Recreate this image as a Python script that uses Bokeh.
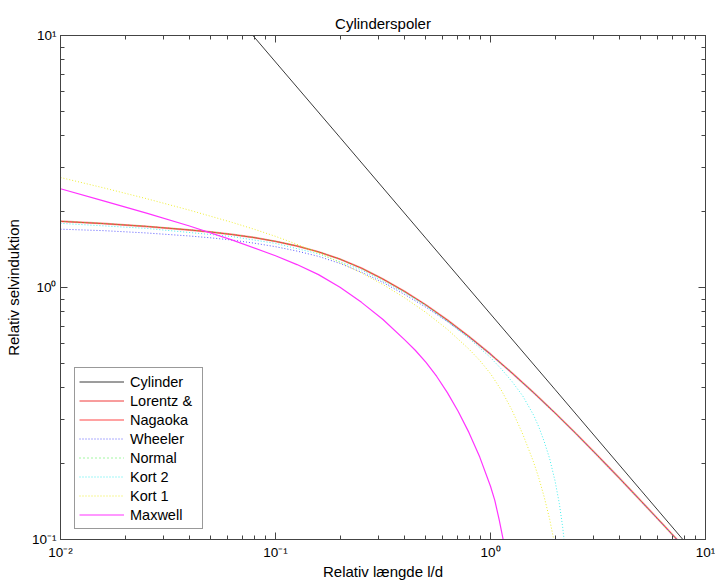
from bokeh.plotting import figure
from bokeh.models import (LogAxis, FixedTicker, CustomJSTickFormatter, Legend,
                          LegendItem, Range1d)
from bokeh.embed import file_html
from bokeh.resources import INLINE

# ---------------- data ----------------
title_text = "Cylinderspoler"
x_label = "Relativ længde l/d"
y_label = "Relativ selvinduktion"

x_major = [0.01, 0.1, 1, 10]
x_major_labels = ["10⁻²", "10⁻¹", "10⁰", "10¹"]
y_major = [0.1, 1, 10]
y_major_labels = ["10⁻¹", "10⁰", "10¹"]
minor_mult = [2, 3, 4, 5, 6, 7, 8, 9]

cyl_x = [0.0785, 0.1, 0.2, 0.5, 1.0, 2.0, 5.0, 10.0]
cyl_y = [10.0, 7.85, 3.93, 1.57, 0.785, 0.393, 0.157, 0.0785]

lor_x = [0.01, 0.01585, 0.02512, 0.03981, 0.05012, 0.0631, 0.07943, 0.1, 0.1259,
         0.1585, 0.1995, 0.2512, 0.3162, 0.3981, 0.5012, 0.631, 0.7943, 1.0, 1.259,
         1.585, 1.995, 2.512, 3.162, 3.981, 5.012, 6.31, 7.943, 8.913]
lor_y = [1.830, 1.793, 1.748, 1.692, 1.660, 1.622, 1.578, 1.524, 1.461,
         1.385, 1.296, 1.193, 1.080, 0.965, 0.852, 0.742, 0.639, 0.544, 0.458,
         0.383, 0.318, 0.262, 0.2145, 0.175, 0.1422, 0.1153, 0.0933, 0.0839]

nag_x = list(lor_x)
nag_y = [1.830, 1.793, 1.748, 1.692, 1.660, 1.622, 1.578, 1.524, 1.461,
         1.385, 1.296, 1.193, 1.080, 0.965, 0.852, 0.742, 0.639, 0.544, 0.458,
         0.383, 0.318, 0.262, 0.2145, 0.175, 0.1422, 0.1153, 0.0933, 0.0839]

nor_x = list(lor_x)
nor_y = [1.832, 1.795, 1.750, 1.694, 1.662, 1.624, 1.580, 1.526, 1.463,
         1.386, 1.296, 1.192, 1.079, 0.964, 0.851, 0.741, 0.638, 0.5435, 0.4577,
         0.3828, 0.3178, 0.2619, 0.2144, 0.1749, 0.1421, 0.1152, 0.0933, 0.0839]

whe_x = list(lor_x)
whe_y = [1.704, 1.681, 1.646, 1.601, 1.574, 1.542, 1.500, 1.452, 1.395,
         1.329, 1.246, 1.150, 1.046, 0.9387, 0.8345, 0.7318, 0.6346, 0.5426, 0.457,
         0.382, 0.3172, 0.2613, 0.2140, 0.1746, 0.1419, 0.1150, 0.0931, 0.0837]

k2_x = [0.01, 0.02512, 0.0631, 0.1, 0.1585, 0.2512, 0.3981, 0.5012, 0.631, 0.7943,
        1.0, 1.122, 1.259, 1.413, 1.585, 1.679, 1.778, 1.884, 1.995, 2.089, 2.163,
        2.213, 2.239]
k2_y = [1.797, 1.716, 1.592, 1.496, 1.360, 1.174, 0.954, 0.8453, 0.7328, 0.6281,
        0.5272, 0.4753, 0.4236, 0.3711, 0.3121, 0.2793, 0.2446, 0.2094, 0.1712,
        0.1391, 0.1131, 0.0952, 0.0857]

k1_x = [0.01, 0.01585, 0.02512, 0.03981, 0.0631, 0.07943, 0.1, 0.1259, 0.1585,
        0.1995, 0.2512, 0.3162, 0.3981, 0.5012, 0.631, 0.7943, 0.8913, 1.0, 1.122,
        1.259, 1.413, 1.585, 1.679, 1.778, 1.884, 1.995, 2.042]
k1_y = [2.732, 2.486, 2.252, 2.027, 1.811, 1.704, 1.596, 1.484, 1.371,
        1.256, 1.142, 1.027, 0.911, 0.7955, 0.6817, 0.5694, 0.5135, 0.4550, 0.3918,
        0.3259, 0.2618, 0.2033, 0.1750, 0.1473, 0.1204, 0.0945, 0.0851]

max_x = [0.01, 0.01585, 0.02512, 0.03981, 0.0631, 0.1, 0.1259, 0.1585, 0.1995,
         0.2512, 0.3162, 0.3981, 0.4467, 0.5012, 0.5623, 0.631, 0.7079, 0.7943,
         0.8913, 1.0, 1.0471, 1.0965, 1.1482, 1.1749]
max_y = [2.466, 2.208, 1.972, 1.754, 1.542, 1.337, 1.233, 1.125, 1.002,
         0.873, 0.7464, 0.6209, 0.5636, 0.5047, 0.4436, 0.3819, 0.3221, 0.2655,
         0.2123, 0.1626, 0.1429, 0.1202, 0.0989, 0.0891]

series_names = ["Cylinder", "Lorentz &", "Nagaoka", "Wheeler", "Normal",
                "Kort 2", "Kort 1", "Maxwell"]

# ---------------- styling ----------------
FONT = "Liberation Sans"

x_minor = [m * t for t in x_major[:-1] for m in minor_mult]
y_minor = [m * t for t in y_major[:-1] for m in minor_mult]


def fmt(vals, labels):
    return CustomJSTickFormatter(args=dict(tvals=vals, tlabels=labels), code="""
        for (let i = 0; i < tvals.length; i++) {
            if (Math.abs(Math.log10(tvals[i]) - Math.log10(tick)) < 1e-6) return tlabels[i];
        }
        return '';
    """)


p = figure(width=715, height=582, x_axis_type="log", y_axis_type="log",
           x_range=Range1d(0.01, 10), y_range=Range1d(0.1, 10),
           output_backend="svg", toolbar_location=None, title=title_text,
           min_border_left=60, min_border_right=10, min_border_top=35,
           min_border_bottom=42, background_fill_color="white",
           border_fill_color="white")

p.title.align = "center"
p.title.text_font = FONT
p.title.text_font_size = "15px"
p.title.text_font_style = "normal"
p.title.text_color = "black"
p.title.standoff = 8

p.xgrid.visible = False
p.ygrid.visible = False
p.outline_line_color = "#444444"
p.outline_line_width = 1


def style_axis(ax, show_labels):
    ax.axis_line_color = "#444444"
    ax.axis_line_width = 1
    ax.major_tick_in = 7
    ax.major_tick_out = 0
    ax.minor_tick_in = 4
    ax.minor_tick_out = 0
    ax.major_tick_line_color = "#444444"
    ax.minor_tick_line_color = "#444444"
    ax.major_label_text_font = FONT
    ax.major_label_text_color = "black"
    ax.axis_label_text_font = FONT
    ax.axis_label_text_font_size = "15px"
    ax.axis_label_text_font_style = "normal"
    ax.axis_label_text_color = "black"
    if show_labels:
        ax.major_label_text_font_size = "13.5px"
    else:
        ax.major_label_text_font_size = "0px"
        ax.major_label_standoff = 0


xa = p.below[0]
xa.ticker = FixedTicker(ticks=x_major, minor_ticks=x_minor)
xa.formatter = fmt(x_major, x_major_labels)
xa.axis_label = x_label
style_axis(xa, True)
xa.major_label_standoff = 5
xa.axis_label_standoff = 0

ya = p.left[0]
ya.ticker = FixedTicker(ticks=y_major, minor_ticks=y_minor)
ya.formatter = fmt(y_major, y_major_labels)
ya.axis_label = y_label
style_axis(ya, True)
ya.major_label_standoff = 4
ya.axis_label_standoff = 7

xt = LogAxis(ticker=FixedTicker(ticks=x_major, minor_ticks=x_minor),
             formatter=CustomJSTickFormatter(code="return ''"))
style_axis(xt, False)
p.add_layout(xt, "above")
yr = LogAxis(ticker=FixedTicker(ticks=y_major, minor_ticks=y_minor),
             formatter=CustomJSTickFormatter(code="return ''"))
style_axis(yr, False)
p.add_layout(yr, "right")

# ---------------- lines ----------------
r_cyl = p.line(cyl_x, cyl_y, line_color="#3a3a3a", line_width=1)
r_nag = p.line(nag_x, nag_y, line_color="#ffa2a2", line_width=2)
r_lor = p.line(lor_x, lor_y, line_color="#f03a3a", line_width=1)
r_whe = p.line(whe_x, whe_y, line_color="#5a5aff", line_width=1, line_dash="1 2")
r_nor = p.line(nor_x, nor_y, line_color="#44ee44", line_width=1, line_dash="1 3")
r_k2 = p.line(k2_x, k2_y, line_color="#44eeee", line_width=1, line_dash="1 2")
r_k1 = p.line(k1_x, k1_y, line_color="#eeee33", line_width=1, line_dash="1 2")
r_max = p.line(max_x, max_y, line_color="#ff33ff", line_width=1.2)

renderers = [r_cyl, r_lor, r_nag, r_whe, r_nor, r_k2, r_k1, r_max]
legend = Legend(items=[LegendItem(label=n, renderers=[r])
                       for n, r in zip(series_names, renderers)],
                location=(14, 10), margin=0, padding=4, spacing=0,
                glyph_width=45, glyph_height=19, label_height=19,
                label_width=68, label_standoff=6, label_text_font=FONT,
                label_text_font_size="14.5px", label_text_color="black",
                border_line_color="#333333", border_line_width=1,
                background_fill_color="white", background_fill_alpha=1.0)
p.add_layout(legend)

open("out.html", "w").write(file_html(p, INLINE))
